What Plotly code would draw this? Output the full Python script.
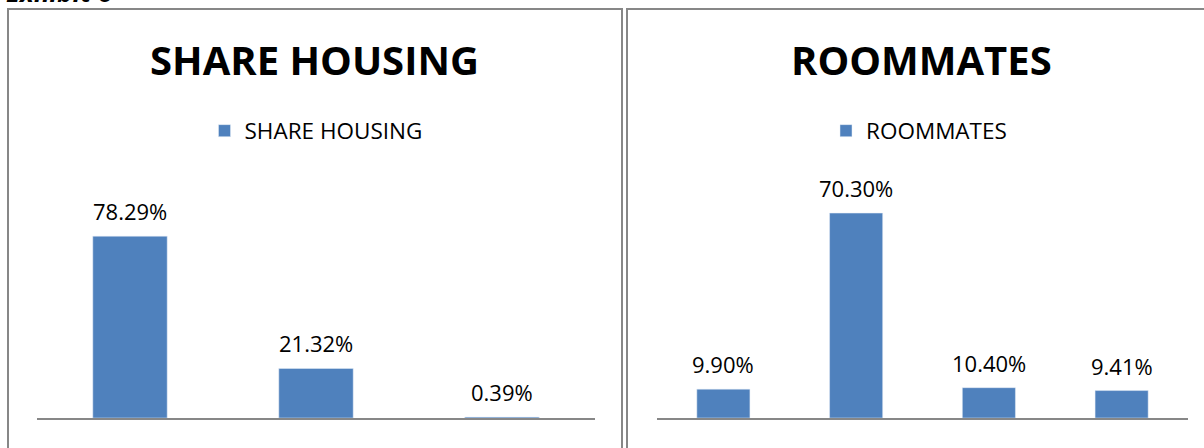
import plotly.graph_objects as go

share_categories = ["Option 1", "Option 2", "Option 3"]
share_values = [78.29, 21.32, 0.39]
room_categories = ["Option 1", "Option 2", "Option 3", "Option 4"]
room_values = [9.90, 70.30, 10.40, 9.41]

BAR = "#4F81BD"
GRID = "#878787"
FONT = "Open Sans"
W, H = 1204, 448

def px_x(p):
    return p / W

def px_y(p):
    return 1 - p / H

fig = go.Figure()
fig.add_trace(go.Bar(x=share_categories, y=share_values, name="SHARE HOUSING",
                     marker=dict(color=BAR), xaxis="x", yaxis="y", legend="legend",
                     width=0.4, hoverinfo="skip"))
fig.add_trace(go.Bar(x=room_categories, y=room_values, name="ROOMMATES",
                     marker=dict(color=BAR), xaxis="x2", yaxis="y2", legend="legend2",
                     width=0.4, hoverinfo="skip"))

annotations = []
for c, v in zip(share_categories, share_values):
    annotations.append(dict(x=c, y=v, xref="x", yref="y", text=f"{v:.2f}%",
                            showarrow=False, yanchor="bottom", yshift=8,
                            font=dict(family=FONT, size=22, color="black")))
for c, v in zip(room_categories, room_values):
    annotations.append(dict(x=c, y=v, xref="x2", yref="y2", text=f"{v:.2f}%",
                            showarrow=False, yanchor="bottom", yshift=8,
                            font=dict(family=FONT, size=22, color="black")))

annotations.append(dict(x=px_x(314), y=px_y(59), xref="paper", yref="paper",
                        text="<b>SHARE HOUSING</b>", showarrow=False,
                        xanchor="center", yanchor="middle",
                        font=dict(family=FONT, size=40, color="black")))
annotations.append(dict(x=px_x(921), y=px_y(59), xref="paper", yref="paper",
                        text="<b>ROOMMATES</b>", showarrow=False,
                        xanchor="center", yanchor="middle",
                        font=dict(family=FONT, size=40, color="black")))
annotations.append(dict(x=px_x(4), y=px_y(12), xref="paper", yref="paper",
                        text="<b><i>Exhibit 6</i></b>", showarrow=False,
                        xanchor="left", yanchor="bottom",
                        font=dict(family=FONT, size=26, color="black")))

shapes = [
    dict(type="rect", xref="paper", yref="paper", x0=px_x(8), x1=px_x(622),
         y0=px_y(9), y1=px_y(460), line=dict(color=GRID, width=2)),
    dict(type="rect", xref="paper", yref="paper", x0=px_x(627), x1=px_x(1220),
         y0=px_y(9), y1=px_y(460), line=dict(color=GRID, width=2)),
]

ydom = [30 / H, (H - 209) / H]
axis_common = dict(showline=True, linecolor=GRID, linewidth=2, showticklabels=False,
                   ticks="", showgrid=False, zeroline=False, fixedrange=True)

fig.update_layout(
    width=W, height=H,
    margin=dict(l=0, r=0, t=0, b=0),
    paper_bgcolor="white", plot_bgcolor="white",
    font=dict(family=FONT, color="black"),
    xaxis=dict(domain=[px_x(37), px_x(595)], anchor="y", **axis_common),
    yaxis=dict(domain=ydom, range=[0, 90], visible=False, anchor="x"),
    xaxis2=dict(domain=[px_x(657), px_x(1188)], anchor="y2", **axis_common),
    yaxis2=dict(domain=ydom, range=[0, 71.7], visible=False, anchor="x2"),
    legend=dict(x=px_x(316), y=px_y(131), xanchor="center", yanchor="middle",
                font=dict(family=FONT, size=22.5, color="black"),
                bgcolor="rgba(0,0,0,0)", itemclick=False, itemdoubleclick=False),
    legend2=dict(x=px_x(919), y=px_y(131), xanchor="center", yanchor="middle",
                 font=dict(family=FONT, size=22.5, color="black"),
                 bgcolor="rgba(0,0,0,0)", itemclick=False, itemdoubleclick=False),
    showlegend=True,
    annotations=annotations,
    shapes=shapes,
)

fig.write_html("out.html",
               config={"displayModeBar": False},
               post_script="document.body.style.margin='0';document.body.style.overflow='hidden';")
